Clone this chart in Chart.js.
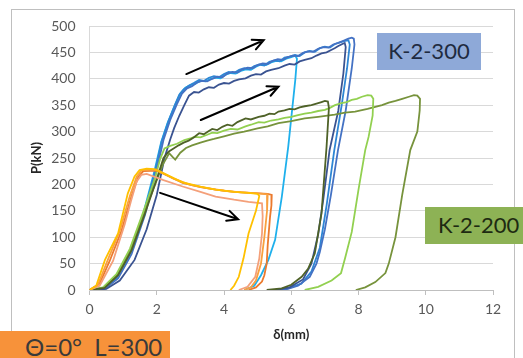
<!DOCTYPE html>
<html>
<head>
<meta charset="utf-8">
<script src="https://cdn.jsdelivr.net/npm/chart.js@4.4.0/dist/chart.umd.min.js"></script>
<style>
body { margin: 0; background: #fff; }
#wrap { position: relative; width: 523px; height: 358px; overflow: hidden; font-family: Lato, "Open Sans", sans-serif; }
#frame { position: absolute; left: 11px; top: 9px; width: 502px; height: 360px; border: 1px solid #BFBFBF; }
canvas { position: absolute; left: 0; top: 0; }
.tag { position: absolute; color: #262626; white-space: nowrap; }
#tag300 { left: 377px; top: 33px; width: 104px; height: 37px; line-height: 35px; background: #8EA9D8; font-size: 22px; text-align: center; color: #1F2B40; }
#tag200 { left: 425px; top: 207px; width: 110px; height: 37px; line-height: 36px; background: #8DB255; font-size: 22px; padding-left: 13px; color: #1E2A12; }
#tagTheta { left: 0; top: 331px; width: 170px; height: 30px; line-height: 32px; background: #F7923A; font-size: 24px; padding-left: 25px; box-sizing: border-box; color: #3A3A3A; }
</style>
</head>
<body>
<div id="wrap">
  <div id="frame"></div>
  <canvas id="myChart" width="523" height="358"></canvas>
  <div class="tag" id="tag300">K-2-300</div>
  <div class="tag" id="tag200">K-2-200</div>
  <div class="tag" id="tagTheta">Θ=0°&nbsp; L=300</div>
</div>
<script>
// оси
const xTickValues = [0, 2, 4, 6, 8, 10, 12];
const yTickValues = [0, 50, 100, 150, 200, 250, 300, 350, 400, 450, 500];

// оранжевая группа (Θ=0°, L=300)
const goldCurve = [[0,0],[0.2,8],[0.46,57],[0.85,107],[1.14,183],[1.34,215],[1.49,227],[1.7,230],[1.93,229],[2.3,218],[2.77,204],[3.3,196],[3.75,190],[4.3,186],[4.73,184],[5.0,182],[5.05,178],[4.95,150],[4.73,107],[4.58,60],[4.44,25],[4.3,8],[4.19,0]];
const orangeCurve = [[0,0],[0.3,12],[0.6,55],[0.95,112],[1.25,178],[1.45,214],[1.6,225],[2.0,226],[2.4,214],[2.77,203],[3.3,195],[3.75,190],[4.3,186],[4.8,184],[5.3,182],[5.42,180],[5.41,160],[5.37,139],[5.3,85],[5.27,50],[5.2,28],[5.13,16],[4.95,5],[4.73,0]];
const salmonCurve = [[0,0],[0.3,8],[0.7,55],[1.05,125],[1.24,170],[1.4,205],[1.54,218],[1.7,220],[2.2,208],[2.77,196],[3.3,186],[3.75,177],[4.3,171],[4.73,167],[5.13,164],[5.15,140],[5.13,107],[5.05,60],[4.93,25],[4.7,6],[4.44,0]];
const amberCurve = [[0,0],[0.25,10],[0.55,58],[0.9,112],[1.2,178],[1.4,214],[1.55,227],[2.0,228],[2.5,211],[3.0,199],[3.5,193],[4.0,188],[4.5,185],[5.0,183],[5.3,181],[5.28,150],[5.2,100],[5.1,50],[4.95,18],[4.8,5],[4.6,0]];

// синяя группа (K-2-300)
const cyanCurve = [[0,0],[0.36,2],[0.8,25],[1.2,72],[1.6,145],[1.93,225],[2.13,280],[2.32,316],[2.52,347],[2.7,372],[2.85,383],[3.0,388],[3.15,391],[3.3,396],[3.45,395],[3.6,400],[3.75,402],[3.9,401],[4.05,408],[4.2,411],[4.35,410],[4.5,415],[4.65,418],[4.8,417],[4.95,423],[5.1,427],[5.25,426],[5.4,431],[5.55,434],[5.7,433],[5.85,438],[6.0,441],[6.12,444],[6.17,438],[6.12,398],[5.91,271],[5.72,177],[5.52,95],[5.32,57],[5.1,28],[4.9,8],[4.6,0]];
const brightBlueCurve = [[0,0],[0.4,3],[0.8,22],[1.2,68],[1.6,140],[1.95,225],[2.15,282],[2.35,320],[2.55,352],[2.67,370],[2.8,380],[2.95,387],[3.1,392],[3.26,398],[3.4,396],[3.55,402],[3.7,405],[3.85,403],[4.0,409],[4.14,413],[4.3,411],[4.45,417],[4.6,420],[4.75,418],[4.9,424],[5.05,427],[5.2,425],[5.35,432],[5.5,435],[5.65,433],[5.8,440],[5.95,442],[6.11,445],[6.25,443],[6.4,450],[6.55,453],[6.7,451],[6.85,458],[7.0,461],[7.15,459],[7.3,466],[7.45,469],[7.6,472],[7.7,473],[7.74,465],[7.66,420],[7.5,350],[7.28,265],[7.05,160],[6.85,80],[6.6,35],[6.3,12],[5.9,3],[5.6,0]];
const blueCurve = [[0,0],[0.45,2],[0.85,22],[1.25,68],[1.65,142],[2.0,228],[2.2,284],[2.4,322],[2.6,352],[2.75,372],[2.9,382],[3.05,386],[3.2,393],[3.35,396],[3.5,395],[3.65,400],[3.8,404],[3.95,403],[4.1,410],[4.25,413],[4.4,412],[4.55,418],[4.7,421],[4.85,420],[5.0,426],[5.15,429],[5.3,428],[5.45,434],[5.6,437],[5.75,436],[5.9,441],[6.05,444],[6.2,443],[6.35,449],[6.5,452],[6.65,451],[6.8,457],[6.95,460],[7.1,459],[7.25,465],[7.4,468],[7.55,472],[7.7,476],[7.8,478],[7.86,476],[7.88,465],[7.8,420],[7.62,340],[7.39,265],[7.18,180],[7.0,115],[6.85,72],[6.75,50],[6.55,25],[6.2,8],[5.9,2],[5.67,0]];
const darkBlueCurve = [[0,0],[0.5,2],[0.9,18],[1.34,57],[1.7,115],[2.0,180],[2.23,250],[2.4,285],[2.52,307],[2.67,330],[2.82,350],[2.96,368],[3.11,375],[3.25,374],[3.4,380],[3.55,384],[3.7,383],[3.85,389],[4.0,392],[4.15,391],[4.3,396],[4.45,399],[4.64,401],[4.8,406],[4.95,409],[5.1,408],[5.25,414],[5.4,417],[5.62,420],[5.8,425],[5.95,428],[6.1,427],[6.25,433],[6.4,436],[6.6,439],[6.75,444],[6.9,448],[7.05,450],[7.2,455],[7.29,458],[7.4,462],[7.52,466],[7.59,468],[7.62,460],[7.55,410],[7.4,340],[7.14,265],[6.95,170],[6.8,105],[6.6,50],[6.35,20],[5.95,5],[5.52,0]];

// зелёная группа (K-2-200)
const darkOliveCurve = [[0,0],[0.45,4],[0.85,28],[1.25,75],[1.65,145],[2.0,210],[2.2,250],[2.35,262],[2.5,268],[2.65,274],[2.8,279],[2.95,283],[3.1,289],[3.26,297],[3.4,295],[3.55,301],[3.65,305],[3.8,303],[3.95,309],[4.1,313],[4.25,311],[4.4,318],[4.64,325],[4.8,323],[5.03,328],[5.2,330],[5.35,334],[5.5,333],[5.62,338],[5.8,340],[5.95,343],[6.1,342],[6.25,346],[6.4,348],[6.6,350],[6.75,353],[6.9,356],[7.0,358],[7.09,357],[7.12,345],[7.05,271],[6.9,145],[6.7,69],[6.5,40],[6.31,25],[6.0,10],[5.72,3],[5.27,0]];
const lightGreenCurve = [[0,0],[0.4,5],[0.8,30],[1.2,78],[1.6,148],[1.95,212],[2.1,248],[2.23,268],[2.4,273],[2.6,277],[2.82,284],[3.0,287],[3.11,290],[3.3,289],[3.5,294],[3.65,298],[3.8,297],[4.0,302],[4.2,305],[4.4,304],[4.64,310],[4.8,313],[5.03,318],[5.2,317],[5.4,321],[5.62,323],[5.8,326],[6.0,328],[6.2,331],[6.4,334],[6.6,336],[6.8,339],[7.0,341],[7.15,345],[7.3,350],[7.49,354],[7.65,356],[7.8,360],[7.95,362],[8.1,366],[8.27,369],[8.38,368],[8.44,362],[8.42,330],[8.3,290],[8.2,265],[8.0,190],[7.8,110],[7.6,60],[7.48,32],[7.2,18],[6.8,6],[6.4,0]];
const oliveCurve = [[0,0],[0.42,4],[0.82,28],[1.22,76],[1.62,146],[2.0,208],[2.2,240],[2.37,259],[2.47,252],[2.55,247],[2.7,260],[2.87,269],[3.05,274],[3.3,279],[3.5,283],[3.7,286],[4.0,291],[4.3,296],[4.6,300],[5.0,306],[5.3,310],[5.62,316],[6.0,320],[6.4,325],[6.8,328],[7.29,332],[7.6,336],[7.9,338],[8.27,343],[8.5,347],[8.7,350],[8.9,355],[9.1,358],[9.3,362],[9.5,366],[9.65,369],[9.75,368],[9.83,362],[9.82,340],[9.75,300],[9.54,265],[9.3,180],[9.1,100],[8.9,50],[8.8,32],[8.5,15],[8.2,5],[7.92,0]];

// стрелки: [x1, y1, x2, y2] в единицах осей
const arrows = [[2.88, 409, 5.18, 473], [3.31, 322, 5.62, 385], [2.10, 184, 4.42, 134]];

const curves = [
    { data: goldCurve, color: '#FFC000' },
    { data: amberCurve, color: '#F9A03F' },
    { data: salmonCurve, color: '#F4A07A' },
    { data: orangeCurve, color: '#EB7A2E' },
    { data: darkOliveCurve, color: '#4F6228' },
    { data: lightGreenCurve, color: '#92D050' },
    { data: oliveCurve, color: '#77933C' },
    { data: darkBlueCurve, color: '#3A5391' },
    { data: blueCurve, color: '#4472C4' },
    { data: brightBlueCurve, color: '#2E86D4' },
    { data: cyanCurve, color: '#1FB0EC' }
];

const arrowPlugin = {
    id: 'arrows',
    afterDatasetsDraw(chart) {
        const ctx = chart.ctx;
        const sx = chart.scales.x, sy = chart.scales.y;
        ctx.save();
        ctx.strokeStyle = '#000';
        ctx.lineWidth = 2;
        ctx.lineCap = 'round';
        arrows.forEach(a => {
            const x1 = sx.getPixelForValue(a[0]), y1 = sy.getPixelForValue(a[1]);
            const x2 = sx.getPixelForValue(a[2]), y2 = sy.getPixelForValue(a[3]);
            const ang = Math.atan2(y2 - y1, x2 - x1);
            ctx.beginPath();
            ctx.moveTo(x1, y1);
            ctx.lineTo(x2, y2);
            ctx.moveTo(x2 - 12 * Math.cos(ang - 0.45), y2 - 12 * Math.sin(ang - 0.45));
            ctx.lineTo(x2, y2);
            ctx.lineTo(x2 - 12 * Math.cos(ang + 0.45), y2 - 12 * Math.sin(ang + 0.45));
            ctx.stroke();
        });
        ctx.restore();
    }
};

Chart.defaults.font.family = 'Lato, "Open Sans", sans-serif';

const ctx = document.getElementById('myChart').getContext('2d');
const myChart = new Chart(ctx, {
    type: 'scatter',
    data: {
        datasets: curves.map(c => ({
            data: c.data.map(p => ({ x: p[0], y: p[1] })),
            showLine: true,
            borderColor: c.color,
            backgroundColor: c.color,
            borderWidth: 1.8,
            pointRadius: 0,
            tension: 0
        }))
    },
    options: {
        responsive: false,
        animation: false,
        layout: { padding: { left: 12, top: 26, right: 30, bottom: 15 } },
        plugins: { legend: { display: false }, tooltip: { enabled: false } },
        scales: {
            x: {
                type: 'linear',
                min: 0,
                max: 12,
                afterBuildTicks: s => { s.ticks = xTickValues.map(v => ({ value: v })); },
                afterFit: s => { s.height = 53; },
                ticks: { color: '#595959', font: { size: 14 }, padding: 6 },
                grid: { drawOnChartArea: false, drawTicks: true, tickLength: 5, color: '#BFBFBF' },
                border: { color: '#BFBFBF' },
                title: { display: true, text: 'δ(mm)', color: '#262626', font: { size: 13, weight: 'bold' }, padding: 0 }
            },
            y: {
                type: 'linear',
                min: 0,
                max: 500,
                afterBuildTicks: s => { s.ticks = yTickValues.map(v => ({ value: v })); },
                afterFit: s => { s.width = 77.5; },
                ticks: { color: '#595959', font: { size: 14 }, padding: 14 },
                grid: { color: '#D9D9D9', drawTicks: false },
                border: { color: '#D9D9D9' },
                title: { display: true, text: 'P(kN)', color: '#262626', font: { size: 13, weight: 'bold' }, padding: { top: 17, bottom: 0 } }
            }
        }
    },
    plugins: [arrowPlugin]
});
</script>
</body>
</html>
